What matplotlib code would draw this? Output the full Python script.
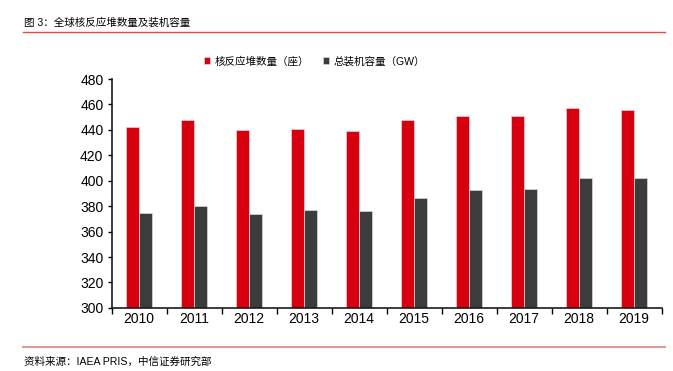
import matplotlib.pyplot as plt
import numpy as np
from matplotlib.lines import Line2D

plt.rcParams['font.family'] = ['Liberation Sans', 'Noto Sans CJK SC']

years = ['2010', '2011', '2012', '2013', '2014', '2015', '2016', '2017', '2018', '2019']
reactores = [442, 448, 440, 441, 439, 448, 451, 451, 457, 456]
capacidad = [375, 380, 374, 377, 376.5, 386.5, 392.5, 393.5, 402, 402]

rojo = '#d7000f'
gris = '#3c3c3c'

fig = plt.figure(figsize=(6.73, 3.71), dpi=100)
ax = fig.add_axes([0.166, 0.170, 0.817, 0.617])

x = np.arange(len(years))
w = 0.236
ax.bar(x - w / 2, reactores, w, color=rojo, edgecolor='#f0d0d0', linewidth=0.5,
       label='核反应堆数量（座）')
ax.bar(x + w / 2, capacidad, w, color=gris, edgecolor='#d8d8d8', linewidth=0.5,
       label='总装机容量（GW）')

ax.set_ylim(300, 480)
ax.set_yticks(range(300, 481, 20))
ax.set_xlim(-0.5, len(years) - 0.5)
ax.set_xticks(np.arange(-0.5, len(years), 1))
ax.set_xticklabels([])
ax.set_xticks(x, minor=True)
ax.set_xticklabels(years, minor=True)
ax.tick_params(axis='x', which='major', length=4, width=1, direction='out')
ax.tick_params(axis='x', which='minor', length=0, labelsize=10, pad=3)
ax.tick_params(axis='y', length=3, width=1, direction='out', labelsize=10, pad=3)

for s in ['top', 'right']:
    ax.spines[s].set_visible(False)
for s in ['left', 'bottom']:
    ax.spines[s].set_linewidth(1.2)
    ax.spines[s].set_color('#1a1a1a')

fig.legend(loc='center left', bbox_to_anchor=(0.303, 0.835), ncol=2, frameon=False,
           fontsize=7.6, borderpad=0, borderaxespad=0,
           handlelength=0.6, handleheight=0.6, handletextpad=0.4,
           columnspacing=1.3)

# encabezado y pie
fig.text(0.036, 0.94, '图 3：全球核反应堆数量及装机容量', fontsize=7.6, va='center', ha='left')
fig.add_artist(Line2D([0.034, 0.988], [0.914, 0.914], color='#dd4b4b', linewidth=1.0))
fig.add_artist(Line2D([0.034, 0.988], [0.064, 0.064], color='#e39a9a', linewidth=1.5))
fig.text(0.036, 0.025, '资料来源：IAEA PRIS，中信证券研究部', fontsize=7.6, va='center', ha='left')

fig.savefig('out.png', dpi=100)
